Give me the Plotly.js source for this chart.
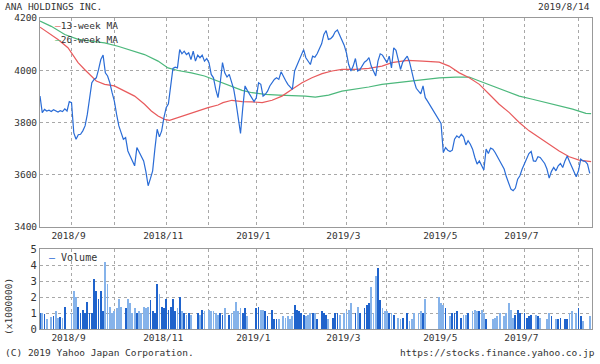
<!DOCTYPE html>
<html><head><meta charset="utf-8">
<script src="https://cdn.plot.ly/plotly-3.0.1.min.js"></script>
<style>html,body{margin:0;padding:0;background:#fff}#chart{width:600px;height:364px}</style>
</head><body><div id="chart"></div>
<script>
// Daily close (JPY), one per trading-day slot, 2018/8/14 - 2019/8/14
const close = [
3901,3838,3850,3844,3847,3842,3849,3844,3840,3845,3842,3852,3844,3880,3876,
3760,3736,3753,3755,3768,3787,3831,3895,3952,3965,3971,4003,4041,4058,3990,
3978,3952,3914,3882,3831,3787,3761,3736,3742,3691,3672,3653,3634,3704,3685,
3672,3653,3612,3558,3585,3615,3700,3774,3745,3768,3819,3857,3872,3940,4007,
4012,4009,4079,4063,4073,4060,4067,4041,4073,4035,4058,4048,4058,4035,4045,
4029,3984,3971,3927,3895,3952,4029,3990,3974,3984,3959,3927,3876,3806,3758,
3857,3940,3923,3908,3892,3880,3895,3952,3946,3901,3908,3920,3940,3952,3965,
3971,3965,3994,3974,3961,3946,3936,3927,3997,4016,4035,4060,4079,4048,4035,
4022,4054,4050,4063,4079,4101,4137,4152,4118,4121,4130,4147,4154,4134,4111,
4096,4067,4022,3997,4016,4045,3997,4003,4016,4031,4037,4048,4016,3994,3978,
4035,4063,4058,4041,4029,4054,4009,4086,4076,4041,4003,4031,4041,4054,4032,
3990,3959,3931,3918,3910,3940,3895,3882,3867,3854,3838,3825,3808,3796,3685,
3704,3694,3689,3694,3736,3749,3742,3755,3745,3714,3730,3717,3698,3666,3641,
3653,3638,3618,3698,3681,3702,3698,3685,3669,3651,3638,3622,3592,3567,3545,
3539,3549,3583,3596,3622,3641,3660,3681,3689,3653,3651,3669,3666,3656,3643,
3622,3587,3613,3628,3615,3634,3643,3628,3653,3672,3651,3630,3613,3592,3615,
3660,3653,3651,3641,3605
];
// Volume (x1,000,000 shares)
const volume = [
1.0,1.0,0.95,0.6,0,0.75,0.8,1.1,0.7,0.75,0.7,1.4,0,0,1.0,
2.4,2.0,1.4,1.0,1.2,1.0,1.7,1.0,1.0,3.1,2.4,1.9,2.4,1.1,4.2,
2.8,1.4,1.0,1.1,1.3,1.9,1.4,0,1.3,1.9,1.6,1.0,1.3,1.0,1.1,
1.0,1.4,1.3,1.4,1.8,1.1,1.0,2.8,2.2,1.4,1.3,1.9,1.2,1.4,1.9,
1.1,1.3,2.0,1.1,1.0,0.9,1.0,0.9,0,0,1.0,0.9,1.2,1.1,0,
1.2,1.1,1.1,1.0,0.9,1.0,0.9,1.3,0,0.9,1.0,1.1,1.7,1.1,1.3,
1.0,1.3,0.8,0,0,0,1.3,1.4,1.2,1.2,1.1,0.8,0,1.2,0.6,
0.6,0.6,0,0.8,0.7,0.8,0.6,0.8,1.5,1.2,1.1,1.0,0.9,0.8,0.9,
1.0,1.0,1.0,0.6,0,1.1,1.0,0.9,0.6,0,0.7,1.0,1.0,0.9,0,
1.0,1.1,1.2,1.6,0,1.0,1.4,1.0,0,1.3,1.5,1.6,2.6,1.0,3.3,
3.8,1.8,1.3,1.1,1.1,1.0,1.0,0.9,0,0.7,0.6,0.7,0,1.0,0.5,
0.6,1.0,0,1.0,1.1,1.0,1.9,0,0,0,0,0,2.0,1.6,1.5,
1.3,0,0.8,1.0,1.0,1.1,0,0.7,0.9,0.9,1.0,0,1.1,1.2,1.1,
1.1,1.2,1.0,0.6,0,0,0.6,0.7,0.8,1.0,0,0.8,1.0,1.6,1.2,
0.7,0.9,1.2,1.0,0,1.0,0.7,0.8,0.9,0,0.9,0.8,0.7,0,0,
0.6,1.0,0.8,0,0.6,0.6,0.7,0,0.6,0.6,1.0,1.1,0,1.0,1.3,
0.8,0.5,0,0,0.8
];
// 13-week moving average (read at vertices)
const ma13Day = [0,3.5,8,12.4,13.9,16.9,19.8,22.8,25,28.7,33,37.6,42,46.4,49.4,52.4,55.3,57.5,61.2,65.7,70,74.6,79,81.2,85.2,89.7,94.1,98.6,103,107.4,111.9,116.3,120.7,125.2,129.6,134,140,145.9,151.8,156.2,160.7,163.3,169.8,177.2,181.6,186.1,190.5,195,199.4,203.8,208.3,212.7,217.1,221.6,226,230.4,234.9,239.3,244.6];
const ma13 = [4165,4143,4118,4086,4067,4029,4003,3978,3959,3946,3940,3920,3901,3870,3844,3825,3812,3808,3819,3831,3844,3857,3867,3876,3885,3880,3879,3876,3885,3901,3927,3952,3971,3987,3997,4003,4003,4007,4016,4029,4035,4038,4035,4031,4016,3990,3971,3946,3908,3870,3838,3800,3768,3742,3717,3691,3669,3656,3650];
// 26-week moving average (read at vertices)
const ma26Day = [0,5,11,16.9,22.8,28.7,34.6,40.5,46.4,52.4,56.8,61.2,67.2,73,79,85.2,89.7,94.1,100,106,111.9,117.8,122.2,128.1,134,140,145.9,151.8,157.7,163.3,169.8,177.2,184.6,190.5,195,200.9,206.8,212.7,218.6,224.5,230.4,236.4,242.3,244.6];
const ma26 = [4188,4168,4137,4118,4111,4105,4092,4076,4060,4035,4009,3999,3990,3978,3959,3940,3923,3914,3908,3905,3904,3901,3897,3905,3920,3927,3936,3946,3952,3957,3965,3971,3974,3974,3959,3940,3920,3901,3889,3876,3863,3851,3835,3834];

const monthTickDay = [14,33,56,75,96,117,136,154,179,197,215,239];
const monthTickText = ['2018/9','','2018/11','','2019/1','','2019/3','','2019/5','','2019/7',''];
const priceTicks = [3400,3600,3800,4000,4200];
const volTicks = [0,1,2,3,4,5];

const day = close.map((_, i) => i);
const barColors = close.map((c, i) => (i === 0 || c >= close[i-1]) ? '#1f63cc' : '#86b3ea');

const FONT = 'DejaVu Sans Mono, monospace';
const tf = {family: FONT, size: 9.5, color: '#333'};

const traces = [
  {x: ma26Day, y: ma26, type: 'scatter', mode: 'lines', line: {color: '#4cb87c', width: 1.2}, xaxis: 'x', yaxis: 'y', hoverinfo: 'skip'},
  {x: ma13Day, y: ma13, type: 'scatter', mode: 'lines', line: {color: '#e85a5c', width: 1.2}, xaxis: 'x', yaxis: 'y', hoverinfo: 'skip'},
  {x: day, y: close, type: 'scatter', mode: 'lines', line: {color: '#2a6cd6', width: 1.2}, xaxis: 'x', yaxis: 'y'},
  {x: day, y: volume, type: 'bar', marker: {color: barColors, line: {width: 0}}, width: 0.8, xaxis: 'x2', yaxis: 'y2'}
];

const xBase = {
  range: [0, 245], tickvals: monthTickDay, ticktext: monthTickText,
  showgrid: true, gridcolor: '#a8a8a8', griddash: 'dot', gridwidth: 1,
  showline: true, mirror: true, linecolor: '#999', linewidth: 1,
  ticks: '', zeroline: false, tickfont: tf, fixedrange: true, ticklabelshift: -3
};
const px = v => (v - 40) / 552;
const py = v => (329 - v) / 311;

const ann = (x, y, text, opts) => Object.assign({xref: 'paper', yref: 'paper', x: px(x), y: py(y), text: text, showarrow: false, font: tf, xanchor: 'left', yanchor: 'middle', borderpad: 0}, opts || {});

const layout = {
  width: 600, height: 364,
  margin: {l: 40, r: 8, t: 18, b: 35},
  paper_bgcolor: '#fff', plot_bgcolor: '#fff',
  showlegend: false, bargap: 0,
  xaxis: Object.assign({}, xBase, {domain: [0, 1], anchor: 'y'}),
  xaxis2: Object.assign({}, xBase, {domain: [0, 1], anchor: 'y2', matches: 'x'}),
  yaxis: {domain: [0.328, 1], range: [3400, 4200], tickvals: priceTicks, showgrid: true, gridcolor: '#a8a8a8', griddash: 'dot', showline: true, mirror: true, linecolor: '#999', ticks: '', zeroline: false, tickfont: tf, fixedrange: true},
  yaxis2: {domain: [0, 0.257], range: [0, 5], tickvals: volTicks, showgrid: true, gridcolor: '#a8a8a8', griddash: 'dot', showline: true, mirror: true, linecolor: '#999', ticks: '', zeroline: false, tickfont: Object.assign({}, tf, {size: 10.5}), fixedrange: true},
  annotations: [
    ann(4, 6.5, 'ANA HOLDINGS INC.'),
    ann(591, 6.5, '2019/8/14', {xanchor: 'right'}),
    ann(54, 26, '<span style="color:#e85a5c">—</span>13-week MA'),
    ann(54, 39, '<span style="color:#4cb87c">—</span>26-week MA'),
    ann(48, 257, '<span style="color:#2a6cd6">—</span> Volume', {font: Object.assign({}, tf, {size: 10})}),
    ann(8, 307, '(x1000000)', {textangle: -90, xanchor: 'center'}),
    ann(4, 352, '(C) 2019 Yahoo Japan Corporation.'),
    ann(596, 352, 'https://stocks.finance.yahoo.co.jp', {xanchor: 'right'})
  ]
};

Plotly.newPlot('chart', traces, layout, {displayModeBar: false, staticPlot: true});
</script>
</body></html>
